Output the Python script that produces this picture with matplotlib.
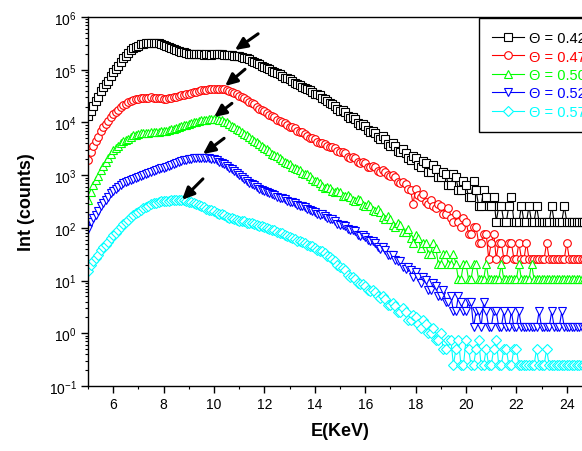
import numpy as np
import matplotlib
matplotlib.use("Agg")
import matplotlib.pyplot as plt
from matplotlib.ticker import LogLocator, NullFormatter, MultipleLocator

plt.rcParams['font.family'] = ['Liberation Sans', 'DejaVu Sans']
plt.rcParams['mathtext.fontset'] = 'custom'
plt.rcParams['mathtext.rm'] = 'Liberation Sans'
plt.rcParams['mathtext.it'] = 'Liberation Sans:italic'
plt.rcParams['mathtext.bf'] = 'Liberation Sans:bold'

# energy channels (keV), 5.0 ... 25.0 every 0.1
energy = np.round(np.linspace(5.0, 25.0, 201), 1)

labels = ['\u0398 = 0.42', '\u0398 = 0.47', '\u0398 = 0.50', '\u0398 = 0.52', '\u0398 = 0.57']
colors = ['#000000', '#ff0000', '#00ff00', '#0000ff', '#00ffff']
markers = ['s', 'o', '^', 'v', 'D']

# intensity per count for each series (vertical offset of the spectra)
scale = [130, 26, 10.5, 1.3, 0.25]

counts_042 = [104, 128, 160, 192, 236, 300, 360, 410, 474, 590,
              700, 790, 905, 1100, 1290, 1420, 1580, 1790, 1950, 2060,
              2200, 2330, 2400, 2430, 2470, 2510, 2500, 2480, 2420, 2370,
              2290, 2160, 2050, 1990, 1900, 1810, 1750, 1700, 1660, 1600,
              1560, 1555, 1540, 1520, 1510, 1500, 1490, 1505, 1510, 1495,
              1500, 1515, 1520, 1500, 1490, 1495, 1480, 1450, 1420, 1405,
              1380, 1330, 1290, 1265, 1230, 1150, 1080, 1030, 975, 905,
              850, 820, 780, 730, 690, 665, 635, 585, 545, 530,
              505, 462, 435, 420, 400, 365, 345, 335, 320, 285,
              265, 262, 250, 222, 210, 196, 178, 172, 160, 138,
              128, 130, 122, 101, 95, 97, 88, 76, 70, 72,
              66, 55, 51, 54, 49, 41, 38, 42, 37, 30,
              28, 31, 27, 22, 21, 24, 20, 16, 15, 18,
              16, 12, 11, 14, 13, 9, 9, 12, 10, 7,
              7, 9, 8, 5, 5, 8, 7, 4, 4, 6,
              5, 3, 3, 6, 4, 2, 2, 4, 3, 2,
              2, 3, 1, 2, 2, 1, 1, 2, 3, 1,
              1, 1, 2, 1, 1, 2, 1, 1, 2, 1,
              1, 1, 1, 1, 2, 1, 1, 1, 1, 2,
              1, 1, 1, 1, 1, 1, 1, 1, 1, 1,
              1]
counts_047 = [74, 105, 140, 168, 205, 262, 312, 360, 415, 490,
              550, 600, 660, 750, 830, 875, 935, 1000, 1040, 1050,
              1075, 1100, 1115, 1120, 1130, 1145, 1140, 1115, 1100, 1095,
              1090, 1085, 1105, 1140, 1170, 1180, 1205, 1250, 1285, 1310,
              1355, 1405, 1440, 1470, 1520, 1575, 1610, 1615, 1635, 1670,
              1685, 1665, 1670, 1665, 1650, 1590, 1520, 1480, 1410, 1310,
              1235, 1190, 1120, 1025, 955, 910, 850, 770, 705, 675,
              630, 575, 535, 512, 480, 435, 405, 392, 372, 338,
              320, 312, 298, 270, 255, 250, 236, 210, 198, 196,
              184, 165, 158, 160, 150, 135, 132, 134, 126, 110,
              104, 106, 100, 86, 82, 85, 80, 68, 65, 69,
              64, 56, 54, 58, 55, 46, 44, 48, 45, 38,
              37, 39, 35, 29, 27, 29, 26, 21, 20, 11,
              21, 16, 15, 17, 12, 11, 13, 10, 9, 11,
              10, 7, 7, 9, 6, 5, 7, 5, 4, 6,
              5, 3, 3, 4, 4, 2, 2, 3, 3, 1,
              2, 3, 1, 2, 2, 1, 1, 2, 2, 1,
              1, 2, 1, 1, 2, 1, 1, 1, 1, 1,
              1, 1, 2, 1, 1, 1, 1, 1, 1, 1,
              2, 1, 1, 1, 1, 1, 1, 1, 1, 1,
              1]
counts_050 = [32, 46, 63, 76, 92, 120, 145, 168, 198, 245,
              282, 305, 338, 385, 422, 440, 470, 512, 542, 552,
              568, 592, 606, 600, 610, 628, 635, 630, 640, 658,
              665, 668, 684, 712, 730, 742, 766, 808, 838, 852,
              880, 928, 960, 978, 1012, 1055, 1078, 1075, 1088, 1115,
              1125, 1100, 1075, 1040, 990, 950, 896, 825, 768, 728,
              682, 622, 580, 548, 506, 462, 430, 405, 376, 340,
              312, 296, 273, 244, 225, 216, 202, 182, 170, 164,
              154, 138, 129, 126, 118, 105, 99, 99, 93, 82,
              75, 74, 69, 60, 55, 57, 54, 47, 46, 48,
              45, 39, 38, 40, 37, 32, 31, 34, 32, 26,
              25, 27, 25, 21, 20, 22, 19, 15, 14, 16,
              14, 11, 10, 12, 11, 8, 8, 9, 6, 5,
              7, 6, 4, 5, 5, 3, 3, 5, 4, 2,
              2, 3, 3, 2, 2, 3, 2, 1, 1, 2,
              2, 1, 1, 2, 2, 1, 1, 1, 2, 1,
              1, 1, 1, 1, 2, 1, 1, 1, 1, 1,
              1, 2, 1, 1, 1, 1, 2, 1, 1, 1,
              1, 1, 1, 1, 1, 1, 1, 1, 1, 1,
              1, 1, 1, 1, 1, 1, 1, 1, 1, 1,
              1]
counts_052 = [74, 98, 120, 136, 160, 200, 232, 262, 300, 352,
              392, 420, 455, 505, 540, 560, 590, 632, 662, 672,
              695, 742, 776, 800, 836, 890, 932, 950, 985, 1035,
              1070, 1105, 1155, 1215, 1256, 1300, 1360, 1425, 1475, 1495,
              1528, 1580, 1615, 1620, 1638, 1660, 1650, 1622, 1600, 1585,
              1542, 1465, 1392, 1330, 1255, 1150, 1056, 985, 910, 828,
              762, 712, 660, 600, 552, 522, 490, 452, 428, 410,
              388, 362, 348, 338, 324, 300, 289, 282, 270, 250,
              240, 236, 225, 206, 199, 196, 188, 172, 165, 164,
              156, 142, 137, 138, 130, 118, 113, 112, 104, 92,
              86, 88, 83, 72, 70, 71, 66, 57, 55, 56,
              52, 45, 43, 44, 40, 33, 31, 33, 29, 24,
              24, 23, 19, 18, 18, 14, 13, 14, 12, 9,
              11, 9, 7, 9, 8, 5, 5, 7, 6, 4,
              4, 5, 3, 3, 4, 2, 2, 4, 3, 2,
              2, 3, 3, 1, 2, 2, 1, 3, 2, 1,
              1, 2, 2, 1, 1, 2, 1, 1, 2, 1,
              1, 2, 1, 1, 1, 1, 1, 1, 1, 2,
              1, 1, 1, 1, 2, 1, 1, 1, 2, 1,
              1, 1, 1, 1, 1, 1, 1, 1, 1, 2,
              2]
counts_057 = [60, 78, 94, 106, 122, 150, 172, 192, 220, 262,
              296, 322, 358, 416, 466, 512, 570, 642, 704, 750,
              808, 888, 946, 988, 1044, 1110, 1160, 1185, 1228, 1275,
              1302, 1300, 1316, 1345, 1362, 1350, 1348, 1342, 1330, 1300,
              1258, 1230, 1188, 1120, 1070, 1035, 988, 930, 890, 865,
              822, 772, 740, 722, 700, 656, 628, 618, 597, 565,
              548, 542, 530, 502, 488, 484, 474, 448, 435, 430,
              412, 390, 378, 372, 359, 336, 322, 316, 299, 278,
              267, 262, 250, 230, 222, 218, 208, 188, 180, 178,
              169, 152, 146, 144, 134, 118, 110, 104, 93, 80,
              72, 70, 63, 52, 47, 47, 42, 36, 34, 35,
              31, 26, 25, 26, 24, 20, 19, 20, 18, 14,
              14, 15, 13, 10, 10, 12, 10, 7, 7, 9,
              8, 6, 5, 7, 6, 4, 4, 5, 3, 3,
              4, 2, 2, 3, 3, 1, 2, 3, 1, 1,
              3, 2, 1, 1, 2, 3, 1, 1, 2, 1,
              1, 2, 3, 1, 1, 2, 2, 1, 1, 2,
              2, 1, 1, 1, 1, 1, 1, 1, 2, 1,
              1, 1, 2, 1, 1, 1, 1, 1, 1, 1,
              1, 1, 1, 1, 1, 1, 1, 1, 1, 1,
              1]
all_counts = [counts_042, counts_047, counts_050, counts_052, counts_057]

# arrows marking the peak of each spectrum: (E_tail, I_tail, E_head, I_head)
arrows = [(11.75, 4.8e5, 10.83, 2.36e5),
          (11.23, 1.02e5, 10.44, 4.9e4),
          (10.71, 2.3e4, 10.0, 1.26e4),
          (10.40, 5.0e3, 9.56, 2.5e3),
          (9.56, 850, 8.73, 340)]

W, H = 582, 452
fig = plt.figure(figsize=(W / 100, H / 100), dpi=100)
x0, x1, y0, y1 = 88, 592, 18, 387
ax = fig.add_axes([x0 / W, 1 - y1 / H, (x1 - x0) / W, (y1 - y0) / H])

for cnt, sc, col, mk, lab in zip(all_counts, scale, colors, markers, labels):
    inten = np.array(cnt) * sc
    ms = 5.5 if mk != 'D' else 4.6
    ax.plot(energy, inten, color=col, lw=0.8, marker=mk, ms=ms,
            mfc='white', mec=col, mew=0.8, label=lab)

for et, it, eh, ih in arrows:
    ax.annotate('', xy=(eh, ih), xytext=(et, it),
                arrowprops=dict(arrowstyle='-|>,head_length=0.6,head_width=0.28',
                                color='black', lw=2.2, shrinkA=0, shrinkB=0,
                                mutation_scale=12))

ax.set_yscale('log')
ax.set_xlim(5, 25)
ax.set_ylim(1e-1, 1e6)
ax.xaxis.set_major_locator(MultipleLocator(2))
ax.xaxis.set_minor_locator(MultipleLocator(1))
ax.yaxis.set_major_locator(LogLocator(base=10, numticks=20))
ax.yaxis.set_minor_locator(LogLocator(base=10, subs=np.arange(2, 10), numticks=200))
ax.yaxis.set_minor_formatter(NullFormatter())
ax.tick_params(which='major', direction='out', length=5, width=1, labelsize=10, pad=3)
ax.tick_params(which='minor', direction='out', length=2.5, width=0.8)
for sp in ax.spines.values():
    sp.set_linewidth(1.0)

ax.set_xlabel('E(KeV)', fontsize=13, fontweight='bold', labelpad=8)
ax.set_ylabel('Int (counts)', fontsize=13, fontweight='bold', labelpad=10)

leg = ax.legend(loc='upper left', bbox_to_anchor=(479 / W, 1 - 19 / H),
                bbox_transform=fig.transFigure, borderaxespad=0,
                fontsize=10.5, frameon=True, fancybox=False, framealpha=1,
                edgecolor='black', handlelength=2.2, handletextpad=0.3,
                labelspacing=0.3, borderpad=0.9, labelcolor='linecolor')
leg.get_frame().set_linewidth(1.0)

fig.savefig('out.png', dpi=100)
